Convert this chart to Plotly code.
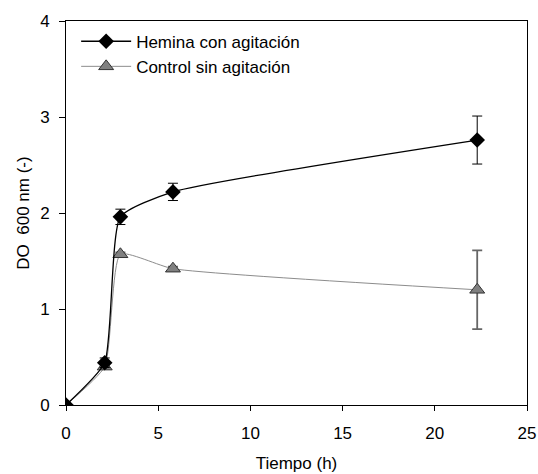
import plotly.graph_objects as go

time_h = [0, 2.1, 2.95, 5.8, 22.3]
hemina = [0.0, 0.44, 1.96, 2.22, 2.76]
hemina_err = [0.0, 0.05, 0.08, 0.09, 0.25]
control = [0.0, 0.40, 1.57, 1.42, 1.20]
control_err = [0.0, 0.02, 0.02, 0.02, 0.41]

font = "Liberation Sans, Arial, sans-serif"

fig = go.Figure()
fig.add_trace(go.Scatter(
    x=time_h, y=control, name="Control sin agitación",
    mode="lines+markers",
    line=dict(color="#8c8c8c", width=1, shape="spline", smoothing=0.5),
    marker=dict(symbol="triangle-up", size=13, color="#808080",
                line=dict(color="#333333", width=1)),
    error_y=dict(type="data", array=control_err, color="#666666",
                 thickness=1.8, width=5),
))
fig.add_trace(go.Scatter(
    x=time_h, y=hemina, name="Hemina con agitación",
    mode="lines+markers",
    line=dict(color="black", width=1.3, shape="spline", smoothing=0.5),
    marker=dict(symbol="diamond", size=12, color="black"),
    error_y=dict(type="data", array=hemina_err, color="black",
                 thickness=1, width=5),
))

fig.update_layout(
    width=538, height=474,
    margin=dict(l=66, r=11, t=21, b=69),
    paper_bgcolor="white", plot_bgcolor="white",
    font=dict(family=font, size=17, color="black"),
    showlegend=True,
    legend=dict(x=0.022, y=0.993, xanchor="left", yanchor="top",
                traceorder="reversed", bgcolor="rgba(0,0,0,0)",
                font=dict(size=17), itemwidth=50, tracegroupgap=0),
    xaxis=dict(range=[0, 25], tickvals=[0, 5, 10, 15, 20, 25],
               showgrid=False, zeroline=False, showline=True,
               linecolor="black", linewidth=1, mirror=True, automargin=False,
               ticks="outside", ticklen=5, tickcolor="black",
               ticklabelstandoff=8,
               title=dict(text="Tiempo (h)", font=dict(size=17), standoff=14)),
    yaxis=dict(range=[0, 4], tickvals=[0, 1, 2, 3, 4],
               showgrid=False, zeroline=False, showline=True,
               linecolor="black", linewidth=1, mirror=True, automargin=False,
               ticks="outside", ticklen=6, tickcolor="black",
               ticklabelstandoff=6,
               title=dict(text="DO  600 nm (-)", font=dict(size=17), standoff=6)),
)

fig.write_html("out.html",
               config={"displayModeBar": False},
               post_script="document.body.style.margin='0';document.body.style.overflow='hidden';")
